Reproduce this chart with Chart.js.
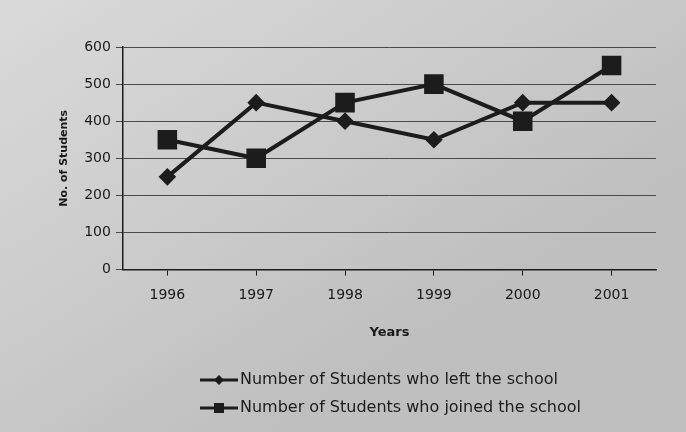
<!DOCTYPE html>
<html lang="en">
<head>
    <meta charset="UTF-8">
    <title>Students left / joined</title>
    <script src="https://cdn.jsdelivr.net/npm/chart.js"></script>
    <style>
        html, body {
            margin: 0;
            padding: 0;
            background: #c9c9c9;
        }
        #wrap {
            width: 686px;
            height: 432px;
        }
    </style>
</head>
<body>
    <div id="wrap"><canvas id="chart"></canvas></div>
    <script>
        const years = ['1996', '1997', '1998', '1999', '2000', '2001'];
        const leftSchool = [250, 450, 400, 350, 450, 450];
        const joinedSchool = [350, 300, 450, 500, 400, 550];
        const yTicks = [0, 100, 200, 300, 400, 500, 600];

        const ink = '#1c1c1c';
        const font = "'DejaVu Sans', Verdana, sans-serif";

        // paper-ish background
        const paper = {
            id: 'paper',
            beforeDraw(chart) {
                const c = chart.ctx;
                const g = c.createLinearGradient(0, 0, chart.width * 0.4, chart.height);
                g.addColorStop(0, '#dadada');
                g.addColorStop(0.5, '#cdcdcd');
                g.addColorStop(1, '#bfbfbf');
                c.save();
                c.fillStyle = g;
                c.fillRect(0, 0, chart.width, chart.height);
                c.restore();
            }
        };

        // legend: line with marker, stacked lines
        const lineLegend = {
            id: 'lineLegend',
            afterDraw(chart) {
                const c = chart.ctx;
                c.save();
                chart.data.datasets.forEach((ds, i) => {
                    const y = 380 + i * 28;
                    const x0 = 200;
                    c.strokeStyle = ink;
                    c.lineWidth = 3;
                    c.beginPath();
                    c.moveTo(x0, y);
                    c.lineTo(x0 + 38, y);
                    c.stroke();
                    c.fillStyle = ink;
                    const mx = x0 + 19;
                    if (ds.pointStyle === 'rectRot') {
                        c.beginPath();
                        c.moveTo(mx, y - 5);
                        c.lineTo(mx + 5, y);
                        c.lineTo(mx, y + 5);
                        c.lineTo(mx - 5, y);
                        c.closePath();
                        c.fill();
                    } else {
                        c.fillRect(mx - 5, y - 5, 10, 10);
                    }
                    c.font = '16px ' + font;
                    c.textBaseline = 'middle';
                    c.fillText(ds.label, x0 + 40, y);
                });
                c.restore();
            }
        };

        new Chart(document.getElementById('chart'), {
            type: 'line',
            data: {
                labels: years,
                datasets: [
                    {
                        label: 'Number of Students who left the school',
                        data: leftSchool,
                        borderColor: ink,
                        backgroundColor: ink,
                        borderWidth: 4,
                        pointStyle: 'rectRot',
                        pointRadius: 6,
                        tension: 0
                    },
                    {
                        label: 'Number of Students who joined the school',
                        data: joinedSchool,
                        borderColor: ink,
                        backgroundColor: ink,
                        borderWidth: 4,
                        pointStyle: 'rect',
                        pointRadius: 11,
                        tension: 0
                    }
                ]
            },
            options: {
                responsive: true,
                maintainAspectRatio: false,
                animation: false,
                layout: {
                    padding: { left: 54, right: 30, top: 47, bottom: 88 }
                },
                plugins: {
                    legend: { display: false },
                    tooltip: { enabled: false }
                },
                scales: {
                    x: {
                        offset: true,
                        border: { color: ink, width: 1.5 },
                        grid: {
                            offset: false,
                            drawOnChartArea: false,
                            color: ink,
                            tickLength: 6
                        },
                        ticks: {
                            color: '#1a1a1a',
                            font: { family: font, size: 14 },
                            padding: 11
                        },
                        title: {
                            display: true,
                            text: 'Years',
                            color: '#1a1a1a',
                            font: { family: font, size: 13, weight: 'bold' },
                            padding: { top: 10 }
                        }
                    },
                    y: {
                        min: 0,
                        max: 600,
                        afterBuildTicks(axis) {
                            axis.ticks = yTicks.map(v => ({ value: v }));
                        },
                        border: { color: ink, width: 1.5 },
                        grid: {
                            color: '#4a4a4a',
                            lineWidth: 1,
                            tickLength: 7
                        },
                        ticks: {
                            color: '#1a1a1a',
                            font: { family: font, size: 14 },
                            padding: 5
                        },
                        title: {
                            display: true,
                            text: 'No. of Students',
                            color: '#1a1a1a',
                            font: { family: font, size: 11, weight: 'bold' },
                            padding: { bottom: 8 }
                        }
                    }
                }
            },
            plugins: [paper, lineLegend]
        });
    </script>
</body>
</html>
